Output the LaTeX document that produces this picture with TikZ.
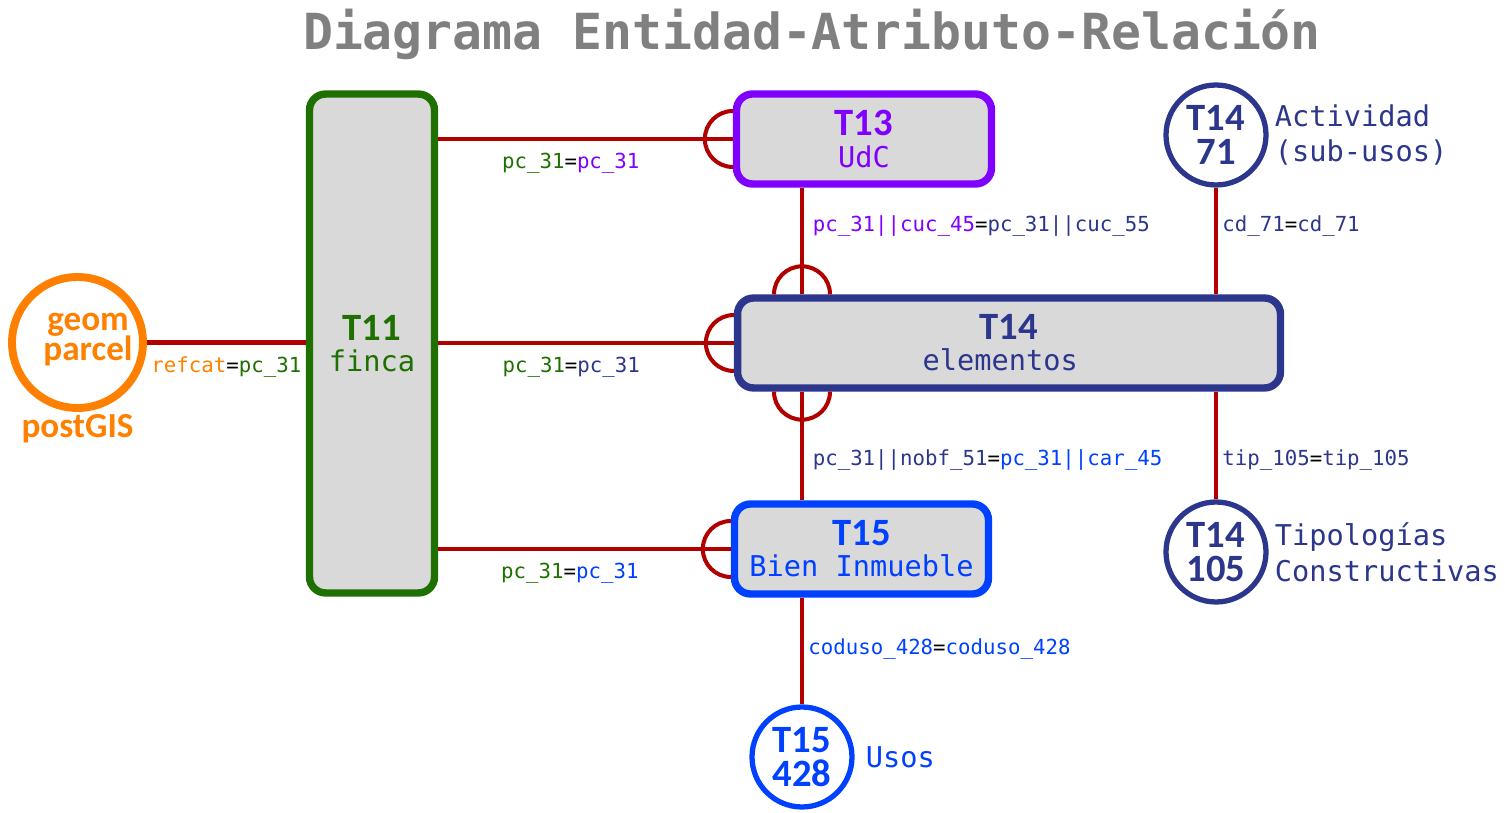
\documentclass[tikz,border=0pt]{standalone}
\usepackage{fontspec}
\usepackage{xcolor}
\usepackage{tikz}
\usetikzlibrary{positioning}

\newfontfamily\monof{DejaVu Sans Mono}
\newfontfamily\calf{Carlito}

\definecolor{fincagreen}{RGB}{30,112,0}
\definecolor{udcpurple}{RGB}{128,0,255}
\definecolor{elemnavy}{RGB}{43,54,140}
\definecolor{biblue}{RGB}{0,64,255}
\definecolor{gisorange}{RGB}{255,128,0}
\definecolor{linkred}{RGB}{176,0,0}
\definecolor{boxgray}{RGB}{217,217,217}
\definecolor{titlegray}{RGB}{128,128,128}

\newcommand{\titlefont}{\monof\bfseries\fontsize{28.3}{34}\selectfont}
\newcommand{\entfont}{\monof\fontsize{16.3}{17.8}\selectfont}
\newcommand{\notefont}{\monof\fontsize{16.3}{20.4}\selectfont}
\newcommand{\keyfont}{\monof\fontsize{11.8}{14}\selectfont}
\newcommand{\tabfont}{\calf\bfseries\fontsize{22}{19.3}\selectfont}
\newcommand{\gisfont}{\calf\bfseries\fontsize{20}{17}\selectfont\lineskiplimit=-\maxdimen}

\begin{document}
\begin{tikzpicture}[
  x=0.02cm, y=-0.02cm,
  entity/.style={draw, fill=boxgray, rounded corners=0.32cm, line width=4.2pt,
    minimum height=1.8cm, align=center, inner sep=2pt, font=\entfont},
  tabla/.style={circle, draw, line width=3pt, minimum size=2cm, inner sep=0pt,
    align=center, font=\tabfont},
  nota/.style={align=left, font=\notefont},
  link/.style={draw=linkred, line width=2.3pt},
  crow/.style={draw=linkred, line width=2.3pt},
  key/.style={font=\keyfont, inner sep=2pt},
]
  \useasboundingbox (0,0) rectangle (1505,813);

  \node[font=\titlefont, text=titlegray, anchor=base] (titulo) at (812,50)
    {Diagrama Entidad-Atributo-Relación};

  \node[entity, draw=fincagreen, text=fincagreen, minimum width=2.5cm,
    minimum height=9.98cm] (T11) at (372,343.5) {{\tabfont T11}\\finca};
  \node[entity, draw=udcpurple, text=udcpurple, minimum width=5.1cm]
    (T13) at (864,139) {{\tabfont T13}\\UdC};
  \node[entity, draw=elemnavy, text=elemnavy, minimum width=10.86cm]
    (T14) at (1009,343) {{\tabfont T14}\\elementos\hspace*{0.35cm}};
  \node[entity, draw=biblue, text=biblue, minimum width=5.08cm]
    (T15) at (861.5,549) {{\tabfont T15}\\Bien Inmueble};

  \node[tabla, draw=gisorange, line width=4.5pt, minimum size=2.62cm,
    label={[font=\gisfont, text=gisorange, align=center, xshift=0.21cm,
    yshift=0.05cm]center:geom\\parcel}] (geom) at (77.5,342.5) {};
  \node[font=\gisfont, text=gisorange, below=-2pt of geom] (pgis) {postGIS};

  \node[tabla, draw=elemnavy, text=elemnavy] (t71) at (1216,135) {T14\\71};
  \node[tabla, draw=elemnavy, text=elemnavy] (t105) at (1216,552) {T14\\105};
  \node[tabla, draw=biblue, text=biblue] (t428) at (802,757) {T15\\428};

  \node[nota, text=elemnavy, right=0pt of t71] (act) {Actividad\\(sub-usos)};
  \node[nota, text=elemnavy, right=0pt of t105] (tipo) {Tipologías\\Constructivas};
  \node[nota, text=biblue, right=0.1cm of t428] (usos) {Usos};

  \coordinate (e14n) at (T14.north -| t428);
  \coordinate (e14s) at (T14.south -| t428);

  \draw[link] (geom) -- node[key, below=5pt]
    {\textcolor{gisorange}{refcat}=\textcolor{fincagreen}{pc\_31}} (geom -| T11.west);
  \draw[link] (T13.west -| T11.east) -- node[key, below=5pt, pos=0.45]
    {\textcolor{fincagreen}{pc\_31}=\textcolor{udcpurple}{pc\_31}} (T13.west);
  \draw[link] (T14.west -| T11.east) -- node[key, below=5pt, pos=0.45]
    {\textcolor{fincagreen}{pc\_31}=\textcolor{elemnavy}{pc\_31}} (T14.west);
  \draw[link] (T15.west -| T11.east) -- node[key, below=5pt, pos=0.45]
    {\textcolor{fincagreen}{pc\_31}=\textcolor{biblue}{pc\_31}} (T15.west);

  \draw[link] (T13.south -| t428) -- node[key, right=3pt, pos=0.355]
    {\textcolor{udcpurple}{pc\_31||cuc\_45}=\textcolor{elemnavy}{pc\_31||cuc\_55}} (e14n);
  \draw[link] (e14s) -- node[key, right=3pt, pos=0.625]
    {\textcolor{elemnavy}{pc\_31||nobf\_51}=\textcolor{biblue}{pc\_31||car\_45}} (T15.north -| t428);
  \draw[link] (T15.south -| t428) -- node[key, right=0.5pt, pos=0.486]
    {\textcolor{biblue}{coduso\_428}=\textcolor{biblue}{coduso\_428}} (t428);
  \draw[link] (t71) -- node[key, right=0.5pt, pos=0.36]
    {\textcolor{elemnavy}{cd\_71}=\textcolor{elemnavy}{cd\_71}} (t71 |- T14.north);
  \draw[link] (T14.south -| t105) -- node[key, right=0.5pt, pos=0.636]
    {\textcolor{elemnavy}{tip\_105}=\textcolor{elemnavy}{tip\_105}} (t105);

  \draw[crow] ([yshift=0.56cm]T13.west) arc[start angle=90, end angle=270, radius=0.56cm];
  \draw[crow] ([yshift=0.56cm]T14.west) arc[start angle=90, end angle=270, radius=0.56cm];
  \draw[crow] ([yshift=0.56cm]T15.west) arc[start angle=90, end angle=270, radius=0.56cm];
  \draw[crow] ([xshift=-0.56cm]e14n) arc[start angle=180, end angle=0, radius=0.56cm];
  \draw[crow] ([xshift=-0.56cm]e14s) arc[start angle=180, end angle=360, radius=0.56cm];
\end{tikzpicture}
\end{document}
